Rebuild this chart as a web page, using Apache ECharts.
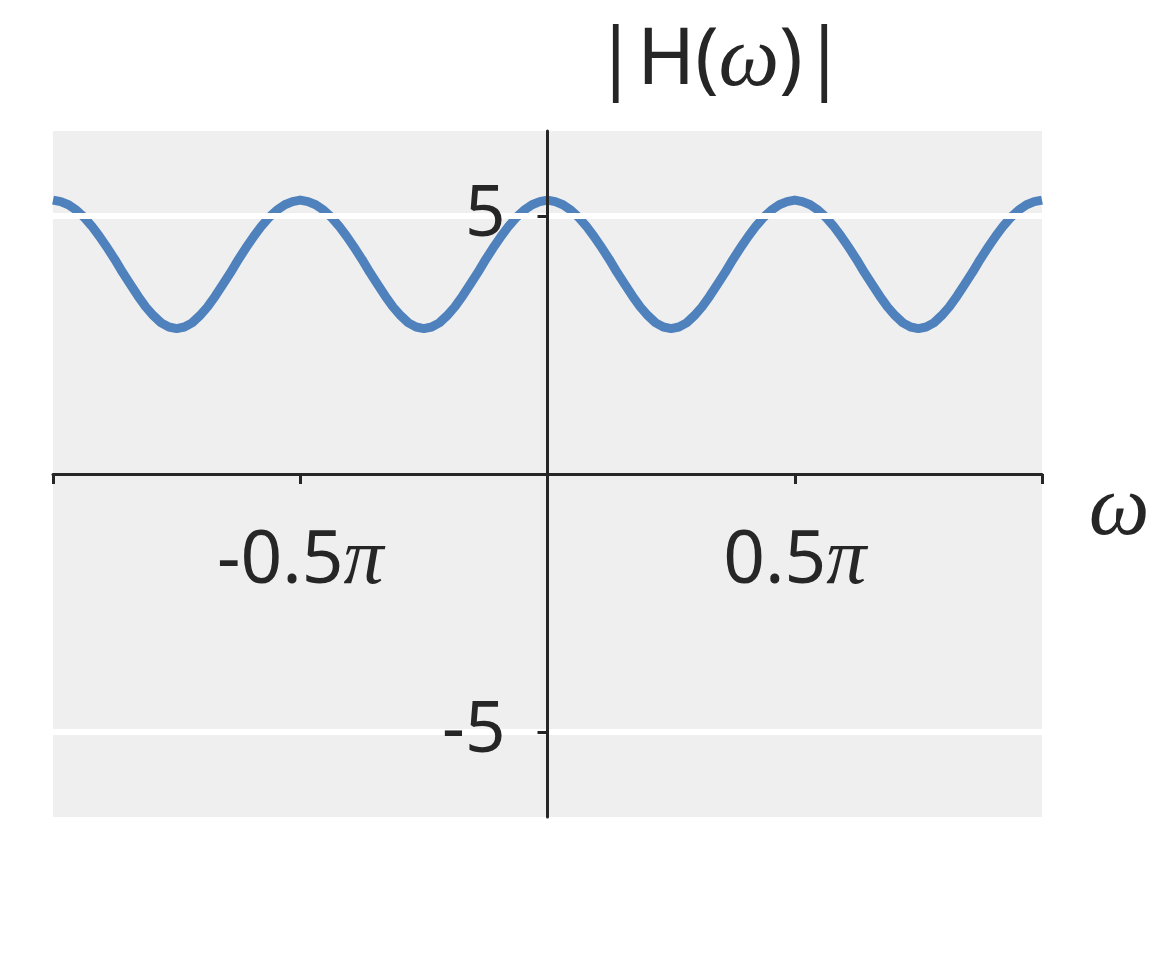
<!DOCTYPE html>
<html>
<head>
<meta charset="utf-8">
<script src="https://cdn.jsdelivr.net/npm/echarts@6/dist/echarts.min.js"></script>
<style>
  html, body { margin: 0; padding: 0; background: #ffffff; }
  #chart { width: 1152px; height: 960px; }
</style>
</head>
<body>
<div id="chart"></div>
<script>
// omega sample positions, in units of pi
var omegaOverPi = [
  -1, -0.984375, -0.96875, -0.953125, -0.9375, -0.921875, -0.90625, -0.890625,
  -0.875, -0.859375, -0.84375, -0.828125, -0.8125, -0.796875, -0.78125, -0.765625,
  -0.75, -0.734375, -0.71875, -0.703125, -0.6875, -0.671875, -0.65625, -0.640625,
  -0.625, -0.609375, -0.59375, -0.578125, -0.5625, -0.546875, -0.53125, -0.515625,
  -0.5, -0.484375, -0.46875, -0.453125, -0.4375, -0.421875, -0.40625, -0.390625,
  -0.375, -0.359375, -0.34375, -0.328125, -0.3125, -0.296875, -0.28125, -0.265625,
  -0.25, -0.234375, -0.21875, -0.203125, -0.1875, -0.171875, -0.15625, -0.140625,
  -0.125, -0.109375, -0.09375, -0.078125, -0.0625, -0.046875, -0.03125, -0.015625,
  0, 0.015625, 0.03125, 0.046875, 0.0625, 0.078125, 0.09375, 0.109375,
  0.125, 0.140625, 0.15625, 0.171875, 0.1875, 0.203125, 0.21875, 0.234375,
  0.25, 0.265625, 0.28125, 0.296875, 0.3125, 0.328125, 0.34375, 0.359375,
  0.375, 0.390625, 0.40625, 0.421875, 0.4375, 0.453125, 0.46875, 0.484375,
  0.5, 0.515625, 0.53125, 0.546875, 0.5625, 0.578125, 0.59375, 0.609375,
  0.625, 0.640625, 0.65625, 0.671875, 0.6875, 0.703125, 0.71875, 0.734375,
  0.75, 0.765625, 0.78125, 0.796875, 0.8125, 0.828125, 0.84375, 0.859375,
  0.875, 0.890625, 0.90625, 0.921875, 0.9375, 0.953125, 0.96875, 0.984375,
  1
];
// |H(omega)|
var magnitude = [
  5.31, 5.28, 5.22, 5.12, 4.98, 4.81, 4.61, 4.39, 4.16, 3.91, 3.68, 3.45, 3.24, 3.07, 2.93, 2.85,
  2.82, 2.85, 2.93, 3.07, 3.24, 3.45, 3.68, 3.91, 4.16, 4.39, 4.61, 4.81, 4.98, 5.12, 5.22, 5.28,
  5.31, 5.28, 5.22, 5.12, 4.98, 4.81, 4.61, 4.39, 4.16, 3.91, 3.68, 3.45, 3.24, 3.07, 2.93, 2.85,
  2.82, 2.85, 2.93, 3.07, 3.24, 3.45, 3.68, 3.91, 4.16, 4.39, 4.61, 4.81, 4.98, 5.12, 5.22, 5.28,
  5.31, 5.28, 5.22, 5.12, 4.98, 4.81, 4.61, 4.39, 4.16, 3.91, 3.68, 3.45, 3.24, 3.07, 2.93, 2.85,
  2.82, 2.85, 2.93, 3.07, 3.24, 3.45, 3.68, 3.91, 4.16, 4.39, 4.61, 4.81, 4.98, 5.12, 5.22, 5.28,
  5.31, 5.28, 5.22, 5.12, 4.98, 4.81, 4.61, 4.39, 4.16, 3.91, 3.68, 3.45, 3.24, 3.07, 2.93, 2.85,
  2.82, 2.85, 2.93, 3.07, 3.24, 3.45, 3.68, 3.91, 4.16, 4.39, 4.61, 4.81, 4.98, 5.12, 5.22, 5.28,
  5.31
];
var xTickValues = [-1, -0.5, 0, 0.5, 1];
var xTickLabels = ['', '-0.5', '', '0.5', ''];
var yTickValues = [5, -5];
var yTickLabels = ['5', '-5'];
var titleText = 'H';
var xName = 'ω';

var TEXT = '#262626';
var SANS = '"Noto Sans", "Open Sans", sans-serif';
var SERIF = '"Liberation Serif", "DejaVu Serif", serif';

var points = omegaOverPi.map(function (x, i) { return [x, magnitude[i]]; });

var chart = echarts.init(document.getElementById('chart'), null, { renderer: 'canvas' });
chart.setOption({
  backgroundColor: '#ffffff',
  animation: false,
  grid: {
    left: 53, top: 131, width: 989, height: 686,
    outerBoundsMode: 'none', containLabel: false,
    show: true, backgroundColor: '#efefef', borderWidth: 0
  },
  xAxis: {
    type: 'value', min: -1, max: 1, interval: 0.5, z: 10, position: 'bottom', offset: 0,
    axisLine: { show: true, onZero: false, lineStyle: { color: TEXT, width: 3 } },
    axisTick: { show: true, length: 10, lineStyle: { color: TEXT, width: 3 } },
    splitLine: { show: false },
    axisLabel: {
      margin: 48,
      formatter: function (v) {
        var i = xTickValues.indexOf(v);
        if (i < 0 || xTickLabels[i] === '') return '';
        return '{n|' + xTickLabels[i] + '}{p|π}';
      },
      rich: {
        n: { fontFamily: SANS, fontSize: 73, color: TEXT },
        p: { fontFamily: SERIF, fontStyle: 'italic', fontSize: 80, color: TEXT }
      }
    }
  },
  yAxis: {
    type: 'value', min: -6.65, max: 6.65, z: 10, position: 'left', offset: 0,
    axisLine: { show: true, onZero: false, lineStyle: { color: TEXT, width: 3 } },
    axisTick: { show: true, length: 10, customValues: yTickValues, lineStyle: { color: TEXT, width: 3 } },
    splitLine: { show: false },
    axisLabel: {
      margin: 42, customValues: yTickValues,
      fontFamily: SANS, fontSize: 71, color: TEXT,
      formatter: function (v) {
        var i = yTickValues.indexOf(v);
        return i < 0 ? '' : yTickLabels[i];
      }
    }
  },
  series: [
    {
      type: 'line', data: [], z: 1, silent: true,
      markLine: {
        silent: true, symbol: 'none', label: { show: false },
        lineStyle: { color: '#ffffff', width: 6, type: 'solid' },
        data: yTickValues.map(function (v) { return { yAxis: v }; })
      }
    },
    {
      type: 'line', data: points, z: 3, smooth: false, showSymbol: false,
      lineStyle: { color: '#4f81bd', width: 9, join: 'round', cap: 'butt' }
    }
  ],
  graphic: [
    {
      type: 'text', x: 720, y: 62, z: 20,
      style: {
        text: '{s||' + titleText + '(}{w|ω}{s|)|}',
        align: 'center', verticalAlign: 'middle',
        rich: {
          s: { fontFamily: SANS, fontSize: 78, fill: TEXT },
          w: { fontFamily: SERIF, fontStyle: 'italic', fontSize: 86, fill: TEXT }
        }
      }
    },
    {
      type: 'text', x: 1119, y: 511, z: 20,
      style: {
        text: xName, align: 'center', verticalAlign: 'middle',
        fontFamily: SERIF, fontStyle: 'italic', fontSize: 86, fill: TEXT
      }
    }
  ]
});

// Move both axes so they cross at the data origin (labels follow the axis lines)
var rect = chart.getModel().getComponent('grid', 0).coordinateSystem.getRect();
var origin = chart.convertToPixel({ gridIndex: 0 }, [0, 0]);
chart.setOption({
  xAxis: { offset: origin[1] - (rect.y + rect.height) },
  yAxis: { offset: rect.x - origin[0] }
});
</script>
</body>
</html>
